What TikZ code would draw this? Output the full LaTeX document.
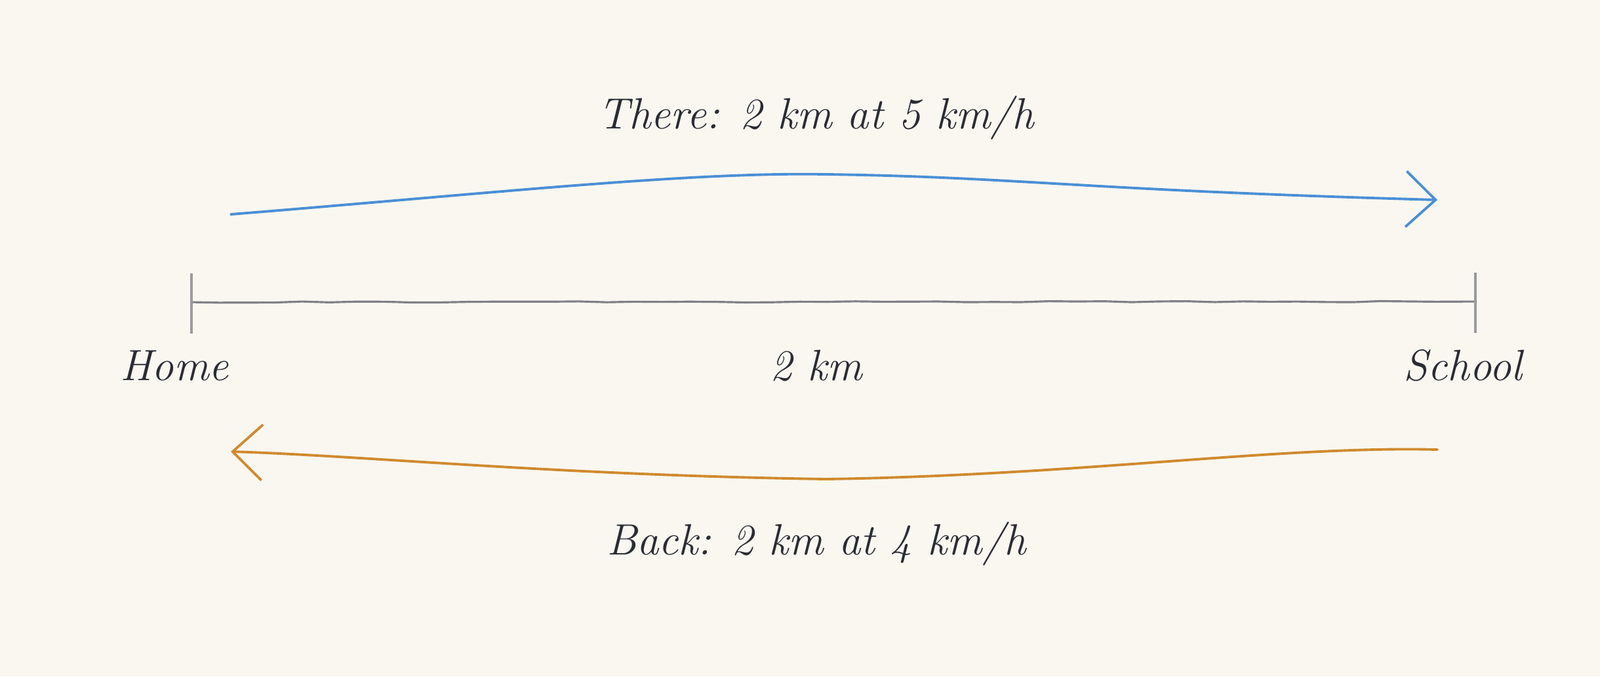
\documentclass[tikz,border=0pt]{standalone}
\usepackage{tikz}
\usetikzlibrary{arrows.meta,decorations.pathmorphing}

\definecolor{paper}{HTML}{F9F7F0}
\definecolor{ink}{HTML}{2B2B33}
\definecolor{goblue}{HTML}{4A8FD6}
\definecolor{backorange}{HTML}{D08A2E}
\definecolor{rulergray}{HTML}{808086}

\tikzset{
  sketch/.style={decorate,decoration={random steps,segment length=12pt,amplitude=0.25pt}},
  label/.style={text=ink,font=\itshape\fontsize{19}{23}\selectfont},
  trip/.style={line width=1.1pt,line cap=round,line join=round}
}

\begin{document}
\begin{tikzpicture}
            \fill[paper] (0,0) rectangle (24.4,-10.32);
            \useasboundingbox (0,0) rectangle (24.4,-10.32);

            \node[label] (there) at (12.45,-1.80){There: 2 km at 5 km/h};
            \node[label] (home) at (2.66,-5.58){Home};
            \node[label] (dist) at (12.45,-5.58){2 km};
            \node[label] (school) at (22.31,-5.58){School};
            \node[label] (back) at (12.45,-8.30){Back: 2 km at 4 km/h};

            \coordinate (h) at (2.92,-4.61);
            \coordinate (s) at (22.50,-4.60);
            \coordinate (goStart) at (3.52,-3.27);
            \coordinate (goEnd) at (21.92,-3.05);
            \coordinate (backStart) at (21.92,-6.86);
            \coordinate (backEnd) at (3.52,-6.89);

            % the road
            \draw[rulergray,line width=0.9pt,sketch] (h) -- (s);
            \draw[rulergray!80,line width=0.9pt] ([yshift=0.44cm]h) -- ([yshift=-0.48cm]h);
            \draw[rulergray!80,line width=0.9pt] ([yshift=0.44cm]s) -- ([yshift=-0.48cm]s);

            % there and back
            \draw[goblue,trip,-{Straight Barb[length=0.45cm,width=0.85cm,line width=1.1pt]}]
                (goStart) .. controls (7.5,-2.95) and (10.5,-2.62) .. (12.6,-2.66)
                .. controls (15.5,-2.70) and (16.5,-2.90) .. (goEnd);
            \draw[backorange,trip,-{Straight Barb[length=0.45cm,width=0.85cm,line width=1.1pt]}]
                (backStart) .. controls (19.5,-6.80) and (16.5,-7.25) .. (12.6,-7.31)
                .. controls (8.5,-7.25) and (5.5,-6.95) .. (backEnd);
          \end{tikzpicture}
\end{document}
